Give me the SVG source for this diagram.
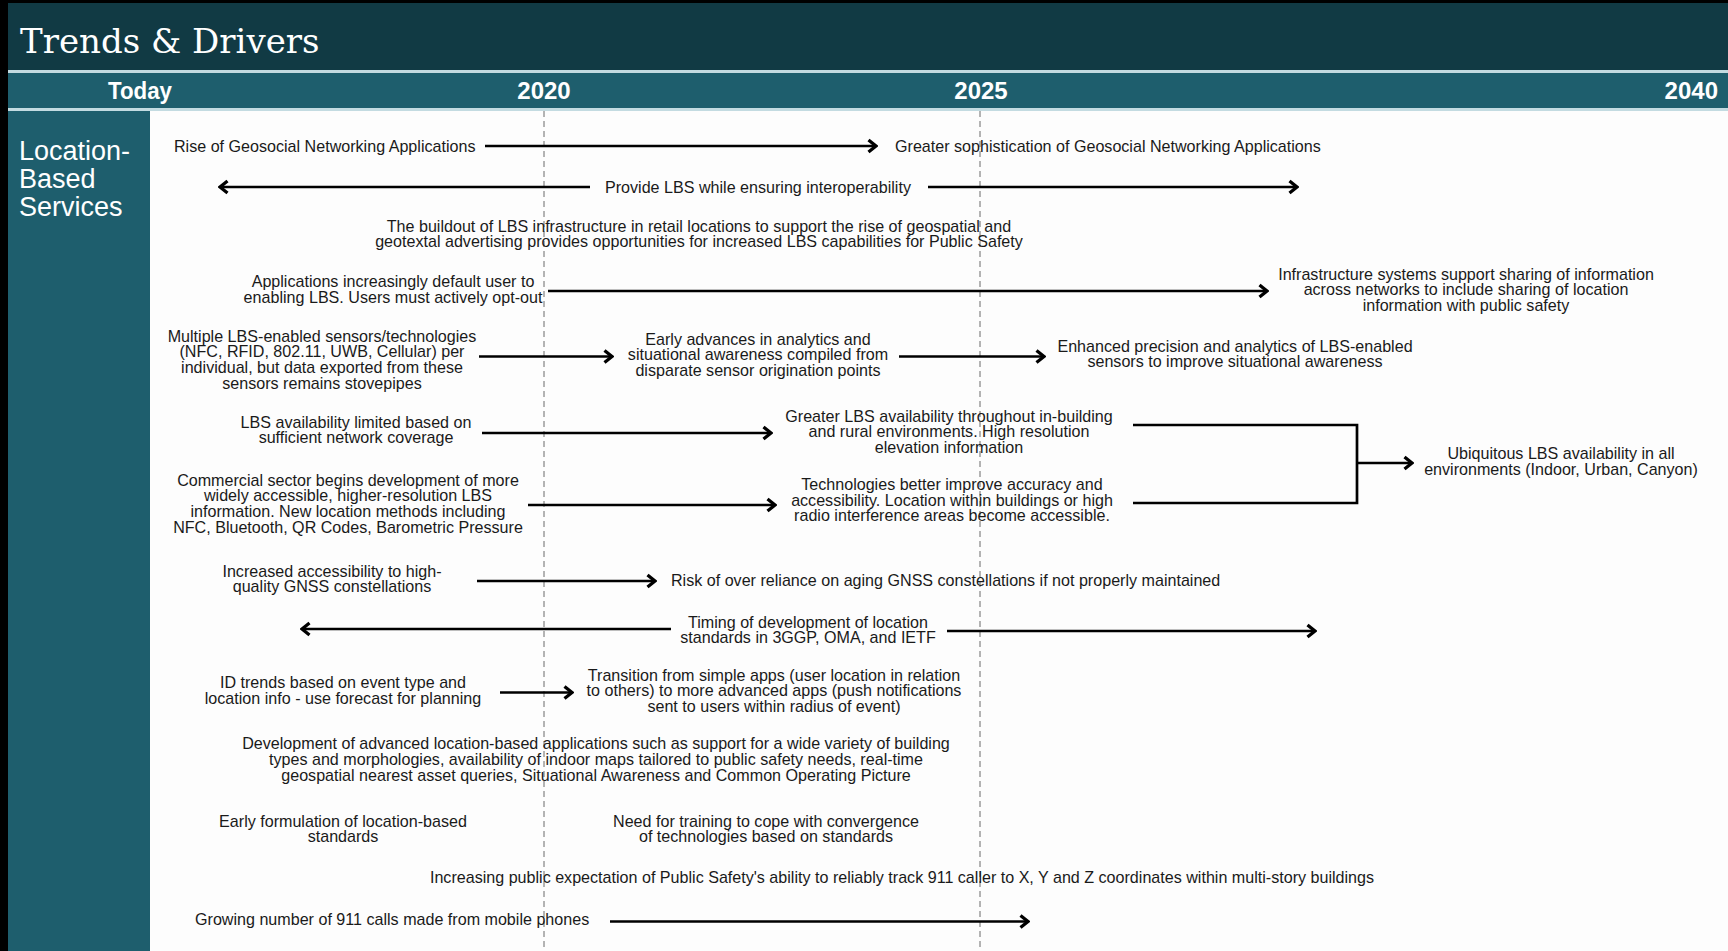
<svg xmlns="http://www.w3.org/2000/svg" width="1728" height="951" viewBox="0 0 1728 951">
<style>
.t{font-family:"Liberation Sans",Arial,sans-serif;font-size:16.1px;fill:#1a1a1a}
.m{text-anchor:middle}
.yr{font-family:"Liberation Sans",Arial,sans-serif;font-size:24px;font-weight:bold;fill:#ffffff}
.ln{stroke:#000;stroke-width:2.7;fill:none}
.dash{stroke:#6a6a6a;stroke-width:1;stroke-dasharray:6 4}
</style>
<defs>
<marker id="ah" viewBox="0 0 12 16" refX="10" refY="8" markerWidth="12" markerHeight="16" markerUnits="userSpaceOnUse" orient="auto-start-reverse">
<path d="M2.5,2 L10,8 L2.5,14" fill="none" stroke="#000" stroke-width="3.3" stroke-linejoin="miter"/>
</marker>
</defs>
<rect x="0" y="0" width="1728" height="951" fill="#fdfdfd"/>
<g id="frame">
<rect x="0" y="0" width="1728" height="3" fill="#000"/>
<rect x="0" y="0" width="8" height="951" fill="#000"/>
<rect x="8" y="3" width="1720" height="67" fill="#113a44"/>
<rect x="8" y="70" width="1720" height="3" fill="#c3dbe1"/>
<rect x="8" y="73" width="1720" height="35" fill="#1e5e6d"/>
<rect x="8" y="108" width="1720" height="3" fill="#c3dbe1"/>
<rect x="8" y="111" width="142" height="840" fill="#1e5e6d"/>
</g>
<g id="title">
<text x="20" y="53" font-family="'DejaVu Serif','Liberation Serif',serif" font-size="34" fill="#ffffff">Trends &amp; Drivers</text>
</g>
<g id="years">
<text class="yr" x="140" y="99" text-anchor="middle" textLength="64" lengthAdjust="spacingAndGlyphs">Today</text>
<text class="yr" x="544" y="99" text-anchor="middle">2020</text>
<text class="yr" x="981" y="99" text-anchor="middle">2025</text>
<text class="yr" x="1718" y="99" text-anchor="end">2040</text>
</g>
<g id="category">
<text font-family="'Liberation Sans',Arial,sans-serif" font-size="27" fill="#ffffff"><tspan x="19" y="160">Location-</tspan><tspan x="19" y="188">Based</tspan><tspan x="19" y="216">Services</tspan></text>
</g>
<g id="timeline-markers">
<line class="dash" x1="544" y1="111" x2="544" y2="951"/>
<line class="dash" x1="980" y1="111" x2="980" y2="951"/>
</g>
<g id="connectors">
<line class="ln" x1="485" y1="146" x2="876" y2="146" marker-end="url(#ah)"/>
<line class="ln" x1="590" y1="187" x2="220" y2="187" marker-end="url(#ah)"/>
<line class="ln" x1="928" y1="187" x2="1297" y2="187" marker-end="url(#ah)"/>
<line class="ln" x1="548" y1="291" x2="1267" y2="291" marker-end="url(#ah)"/>
<line class="ln" x1="479" y1="356.5" x2="612" y2="356.5" marker-end="url(#ah)"/>
<line class="ln" x1="899" y1="356.5" x2="1044" y2="356.5" marker-end="url(#ah)"/>
<line class="ln" x1="482" y1="433" x2="771" y2="433" marker-end="url(#ah)"/>
<line class="ln" x1="528" y1="505" x2="775" y2="505" marker-end="url(#ah)"/>
<polyline class="ln" points="1133,425 1357,425 1357,503 1133,503"/>
<line class="ln" x1="1357" y1="463" x2="1412" y2="463" marker-end="url(#ah)"/>
<line class="ln" x1="477" y1="581" x2="655" y2="581" marker-end="url(#ah)"/>
<line class="ln" x1="671" y1="629" x2="302" y2="629" marker-end="url(#ah)"/>
<line class="ln" x1="947" y1="631" x2="1315" y2="631" marker-end="url(#ah)"/>
<line class="ln" x1="500" y1="692.5" x2="572" y2="692.5" marker-end="url(#ah)"/>
<line class="ln" x1="610" y1="921.5" x2="1028" y2="921.5" marker-end="url(#ah)"/>
</g>
<g id="n-rise"><text class="t" x="174" y="151.5">Rise of Geosocial Networking Applications</text></g>
<g id="n-greater-soph"><text class="t" x="895" y="151.5">Greater sophistication of Geosocial Networking Applications</text></g>
<g id="n-provide"><text class="t" x="605" y="192.5">Provide LBS while ensuring interoperability</text></g>
<g id="n-buildout"><text class="t m"><tspan x="699" y="231.5">The buildout of LBS infrastructure in retail locations to support the rise of geospatial and</tspan><tspan x="699" y="247.2">geotextal advertising provides opportunities for increased LBS capabilities for Public Safety</tspan></text></g>
<g id="n-apps-default"><text class="t m"><tspan x="393" y="287">Applications increasingly default user to</tspan><tspan x="393" y="302.8">enabling LBS. Users must actively opt-out</tspan></text></g>
<g id="n-infra-sharing"><text class="t m"><tspan x="1466" y="279.5">Infrastructure systems support sharing of information</tspan><tspan x="1466" y="295.3">across networks to include sharing of location</tspan><tspan x="1466" y="311.1">information with public safety</tspan></text></g>
<g id="n-multiple"><text class="t m"><tspan x="322" y="341.7">Multiple LBS-enabled sensors/technologies</tspan><tspan x="322" y="357.4">(NFC, RFID, 802.11, UWB, Cellular) per</tspan><tspan x="322" y="373.1">individual, but data exported from these</tspan><tspan x="322" y="388.8">sensors remains stovepipes</tspan></text></g>
<g id="n-early-advances"><text class="t m"><tspan x="758" y="344.5">Early advances in analytics and</tspan><tspan x="758" y="360.2">situational awareness compiled from</tspan><tspan x="758" y="375.9">disparate sensor origination points</tspan></text></g>
<g id="n-enhanced"><text class="t m"><tspan x="1235" y="351.7">Enhanced precision and analytics of LBS-enabled</tspan><tspan x="1235" y="367.4">sensors to improve situational awareness</tspan></text></g>
<g id="n-lbs-limited"><text class="t m"><tspan x="356" y="427.5">LBS availability limited based on</tspan><tspan x="356" y="443.2">sufficient network coverage</tspan></text></g>
<g id="n-greater-lbs"><text class="t m"><tspan x="949" y="421.7">Greater LBS availability throughout in-building</tspan><tspan x="949" y="437.4">and rural environments. High resolution</tspan><tspan x="949" y="453.1">elevation information</tspan></text></g>
<g id="n-ubiquitous"><text class="t m"><tspan x="1561" y="459.3">Ubiquitous LBS availability in all</tspan><tspan x="1561" y="475">environments (Indoor, Urban, Canyon)</tspan></text></g>
<g id="n-commercial"><text class="t m"><tspan x="348" y="485.7">Commercial sector begins development of more</tspan><tspan x="348" y="501.4">widely accessible, higher-resolution LBS</tspan><tspan x="348" y="517.1">information. New location methods including</tspan><tspan x="348" y="532.8">NFC, Bluetooth, QR Codes, Barometric Pressure</tspan></text></g>
<g id="n-technologies"><text class="t m"><tspan x="952" y="490">Technologies better improve accuracy and</tspan><tspan x="952" y="505.7">accessibility. Location within buildings or high</tspan><tspan x="952" y="521.4">radio interference areas become accessible.</tspan></text></g>
<g id="n-gnss-access"><text class="t m"><tspan x="332" y="576.7">Increased accessibility to high-</tspan><tspan x="332" y="592.4">quality GNSS constellations</tspan></text></g>
<g id="n-gnss-risk"><text class="t" x="671" y="585.5">Risk of over reliance on aging GNSS constellations if not properly maintained</text></g>
<g id="n-timing"><text class="t m"><tspan x="808" y="627.7">Timing of development of location</tspan><tspan x="808" y="643.4">standards in 3GGP, OMA, and IETF</tspan></text></g>
<g id="n-id-trends"><text class="t m"><tspan x="343" y="688.3">ID trends based on event type and</tspan><tspan x="343" y="704">location info - use forecast for planning</tspan></text></g>
<g id="n-transition"><text class="t m"><tspan x="774" y="680.7">Transition from simple apps (user location in relation</tspan><tspan x="774" y="696.4">to others) to more advanced apps (push notifications</tspan><tspan x="774" y="712.1">sent to users within radius of event)</tspan></text></g>
<g id="n-development"><text class="t m"><tspan x="596" y="749.3">Development of advanced location-based applications such as support for a wide variety of building</tspan><tspan x="596" y="765">types and morphologies, availability of indoor maps tailored to public safety needs, real-time</tspan><tspan x="596" y="780.7">geospatial nearest asset queries, Situational Awareness and Common Operating Picture</tspan></text></g>
<g id="n-early-formulation"><text class="t m"><tspan x="343" y="826.7">Early formulation of location-based</tspan><tspan x="343" y="842.4">standards</tspan></text></g>
<g id="n-training"><text class="t m"><tspan x="766" y="826.7">Need for training to cope with convergence</tspan><tspan x="766" y="842.4">of technologies based on standards</tspan></text></g>
<g id="n-expectation"><text class="t m" x="902" y="882.7">Increasing public expectation of Public Safety's ability to reliably track 911 caller to X, Y and Z coordinates within multi-story buildings</text></g>
<g id="n-growing"><text class="t" x="195" y="924.5">Growing number of 911 calls made from mobile phones</text></g>
</svg>
